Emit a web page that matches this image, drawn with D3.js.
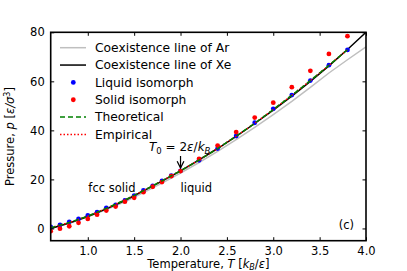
<!DOCTYPE html>
<html>
<head>
<meta charset="utf-8">
<script src="https://cdn.jsdelivr.net/npm/d3@7.9.0/dist/d3.min.js"></script>
<style>
  body { margin: 0; background: #fff; }
  svg text { font-family: "DejaVu Sans", sans-serif; }
</style>
</head>
<body>
<svg id="chart" width="407" height="271"></svg>
<script>
// ---- data ----
const isoT = [0.6, 0.7, 0.8, 0.9, 1.0, 1.1, 1.2, 1.3, 1.4, 1.5, 1.6, 1.7, 1.8, 1.9, 2.0,
              2.2, 2.4, 2.6, 2.8, 3.0, 3.2, 3.4, 3.6, 3.8];
const liquidP = [0.6, 1.4, 2.7, 3.9, 5.3, 6.6, 8.4, 9.6, 11.4, 13.4, 15.5, 17.4, 19.4, 21.5, 23.5,
                 27.8, 32.6, 37.7, 43.1, 48.8, 54.4, 60.3, 66.6, 72.8];
const solidP = [-1.1, -0.1, 0.9, 2.3, 3.9, 5.6, 7.3, 8.9, 10.9, 12.5, 14.8, 17.0, 18.9, 21.3, 23.4,
                28.4, 33.8, 39.3, 45.2, 51.3, 57.6, 64.3, 71.2, 78.4];

const coexT = [0.6, 0.8, 1.0, 1.2, 1.4, 1.6, 1.8, 2.0, 2.2, 2.4, 2.6, 2.8, 3.0, 3.2, 3.4, 3.6, 3.8, 4.0];
const coexXe = [0.0, 2.2, 4.9, 8.0, 11.4, 15.3, 19.3, 23.5, 28.0, 32.6, 37.6, 42.8, 48.3, 54.0, 60.0, 66.3, 73.0, 80.0];
const coexAr = [0.0, 2.1, 4.7, 7.7, 10.9, 14.6, 18.5, 22.6, 26.9, 31.4, 36.2, 41.2, 46.4, 51.8, 57.5, 63.4, 68.8, 74.1];

const theoT = [0.6, 0.8, 1.0, 1.2, 1.4, 1.6, 1.8, 2.0, 2.2, 2.4, 2.6, 2.8, 3.0, 3.2, 3.4, 3.6, 3.8];
const theoP = [0.3, 2.4, 5.0, 8.2, 11.6, 15.4, 19.4, 23.5, 27.9, 32.6, 37.6, 42.9, 48.5, 54.3, 60.3, 66.5, 72.9];
const empP  = [0.3, 2.4, 5.0, 8.2, 11.6, 15.4, 19.4, 23.5, 27.9, 32.6, 37.6, 42.9, 48.5, 54.3, 60.3, 66.5, 72.9];

const xTicks = [1.0, 1.5, 2.0, 2.5, 3.0, 3.5, 4.0];
const yTicks = [0, 20, 40, 60, 80];

const legendItems = [
  { label: "Coexistence line of Ar", kind: "line", color: "#bfbfbf", dash: null },
  { label: "Coexistence line of Xe", kind: "line", color: "#000", dash: null },
  { label: "Liquid isomorph", kind: "dot", color: "#0000ff" },
  { label: "Solid isomorph", kind: "dot", color: "#ff0000" },
  { label: "Theoretical", kind: "line", color: "#008000", dash: "5,3" },
  { label: "Empirical", kind: "line", color: "#ff0000", dash: "1.5,2" }
];

// ---- layout ----
const svg = d3.select("#chart");
const m = { left: 50.7, right: 366, top: 32.3, bottom: 240.7 };

const x = d3.scaleLinear().domain([0.6, 4.0]).range([m.left, m.right]);
const y = d3.scaleLinear().domain([-5, 80]).range([m.bottom, m.top]);

svg.append("clipPath").attr("id", "clip")
  .append("rect")
  .attr("x", m.left).attr("y", m.top)
  .attr("width", m.right - m.left).attr("height", m.bottom - m.top);

const plot = svg.append("g").attr("clip-path", "url(#clip)");

const line = d3.line().x(d => x(d[0])).y(d => y(d[1]));

plot.append("path")
  .attr("d", line(d3.zip(coexT, coexAr)))
  .attr("fill", "none").attr("stroke", "#bfbfbf").attr("stroke-width", 1.5);

plot.append("path")
  .attr("d", line(d3.zip(coexT, coexXe)))
  .attr("fill", "none").attr("stroke", "#000").attr("stroke-width", 1.5);

// isomorph points
plot.append("g").selectAll("circle")
  .data(d3.zip(isoT, liquidP))
  .join("circle")
  .attr("cx", d => x(d[0])).attr("cy", d => y(d[1]))
  .attr("r", 2.4).attr("fill", "#0000ff");

plot.append("g").selectAll("circle")
  .data(d3.zip(isoT, solidP))
  .join("circle")
  .attr("cx", d => x(d[0])).attr("cy", d => y(d[1]))
  .attr("r", 2.4).attr("fill", "#ff0000");

plot.append("path")
  .attr("d", line(d3.zip(theoT, empP)))
  .attr("fill", "none").attr("stroke", "#ff0000").attr("stroke-width", 1.5)
  .attr("stroke-dasharray", "1.5,2");

plot.append("path")
  .attr("d", line(d3.zip(theoT, theoP)))
  .attr("fill", "none").attr("stroke", "#008000").attr("stroke-width", 1.5)
  .attr("stroke-dasharray", "5,3");

// ---- axes (inward ticks on all sides) ----
const tick = 3.5;
const bottomAx = d3.axisBottom(x).tickValues(xTicks).tickFormat(d3.format(".1f"))
  .tickSizeInner(-tick).tickSizeOuter(0).tickPadding(6);
const topAx = d3.axisTop(x).tickValues(xTicks).tickFormat("")
  .tickSizeInner(-tick).tickSizeOuter(0);
const leftAx = d3.axisLeft(y).tickValues(yTicks).tickFormat(d3.format("d"))
  .tickSizeInner(-tick).tickSizeOuter(0).tickPadding(6);
const rightAx = d3.axisRight(y).tickValues(yTicks).tickFormat("")
  .tickSizeInner(-tick).tickSizeOuter(0);

function styleAxis(g) {
  g.select(".domain").remove();
  g.selectAll(".tick line").attr("stroke", "#000").attr("stroke-width", 1);
  g.selectAll(".tick text").attr("font-size", 11.5).attr("fill", "#000")
    .attr("font-family", "DejaVu Sans");
}

svg.append("g").attr("transform", `translate(0,${m.bottom})`).call(bottomAx).call(styleAxis);
svg.append("g").attr("transform", `translate(0,${m.top})`).call(topAx).call(styleAxis);
svg.append("g").attr("transform", `translate(${m.left},0)`).call(leftAx).call(styleAxis);
svg.append("g").attr("transform", `translate(${m.right},0)`).call(rightAx).call(styleAxis);

svg.append("rect")
  .attr("x", m.left).attr("y", m.top)
  .attr("width", m.right - m.left).attr("height", m.bottom - m.top)
  .attr("fill", "none").attr("stroke", "#000").attr("stroke-width", 1.6);

// axis labels
const xl = svg.append("text")
  .attr("x", (m.left + m.right) / 2).attr("y", 267.5)
  .attr("text-anchor", "middle").attr("font-size", 11.5);
xl.append("tspan").text("Temperature, ");
xl.append("tspan").attr("font-style", "italic").text("T");
xl.append("tspan").text(" [");
xl.append("tspan").attr("font-style", "italic").text("k");
xl.append("tspan").attr("font-style", "italic").attr("font-size", 8).attr("dy", 2.5).text("B");
xl.append("tspan").attr("dy", -2.5).text("/");
xl.append("tspan").attr("font-style", "italic").text("ε");
xl.append("tspan").text("]");

const yl = svg.append("text")
  .attr("transform", `translate(14,${(m.top + m.bottom) / 2}) rotate(-90)`)
  .attr("text-anchor", "middle").attr("font-size", 11.5);
yl.append("tspan").text("Pressure, ");
yl.append("tspan").attr("font-style", "italic").text("p");
yl.append("tspan").text(" [");
yl.append("tspan").attr("font-style", "italic").text("ε/σ");
yl.append("tspan").attr("font-size", 8).attr("dy", -4).text("3");
yl.append("tspan").attr("dy", 4).text("]");

// ---- legend ----
const lg = svg.append("g");
legendItems.forEach((it, i) => {
  const yy = 47.7 + i * 17.35;
  if (it.kind === "line") {
    lg.append("line").attr("x1", 60).attr("x2", 86).attr("y1", yy).attr("y2", yy)
      .attr("stroke", it.color).attr("stroke-width", 1.5)
      .attr("stroke-dasharray", it.dash);
  } else {
    lg.append("circle").attr("cx", 73.3).attr("cy", yy).attr("r", 2.4).attr("fill", it.color);
  }
  lg.append("text").attr("x", 95).attr("y", yy + 4.3).attr("font-size", 12.3).text(it.label);
});

// ---- annotations ----
const ann = svg.append("text").attr("x", 149).attr("y", 151).attr("font-size", 12);
ann.append("tspan").attr("font-style", "italic").text("T");
ann.append("tspan").attr("font-size", 8.5).attr("dy", 2.5).text("0");
ann.append("tspan").attr("dy", -2.5).text(" = 2");
ann.append("tspan").attr("font-style", "italic").text("ε");
ann.append("tspan").text("/");
ann.append("tspan").attr("font-style", "italic").text("k");
ann.append("tspan").attr("font-style", "italic").attr("font-size", 8.5).attr("dy", 2.5).text("B");

svg.append("defs").append("marker")
  .attr("id", "arr").attr("viewBox", "0 0 10 10").attr("refX", 9).attr("refY", 5)
  .attr("markerWidth", 7).attr("markerHeight", 7).attr("orient", "auto")
  .append("path").attr("d", "M1,1 L9,5 L1,9").attr("fill", "none").attr("stroke", "#000").attr("stroke-width", 1.5);

svg.append("line")
  .attr("x1", x(2.0)).attr("x2", x(2.0)).attr("y1", 156).attr("y2", 168)
  .attr("stroke", "#000").attr("stroke-width", 1.2).attr("marker-end", "url(#arr)");

svg.append("text").attr("x", x(1.26)).attr("y", 192).attr("text-anchor", "middle")
  .attr("font-size", 11.5).text("fcc solid");
svg.append("text").attr("x", x(2.17)).attr("y", 192).attr("text-anchor", "middle")
  .attr("font-size", 11.5).text("liquid");
svg.append("text").attr("x", 354).attr("y", 229).attr("text-anchor", "end")
  .attr("font-size", 11.5).text("(c)");
</script>
</body>
</html>
